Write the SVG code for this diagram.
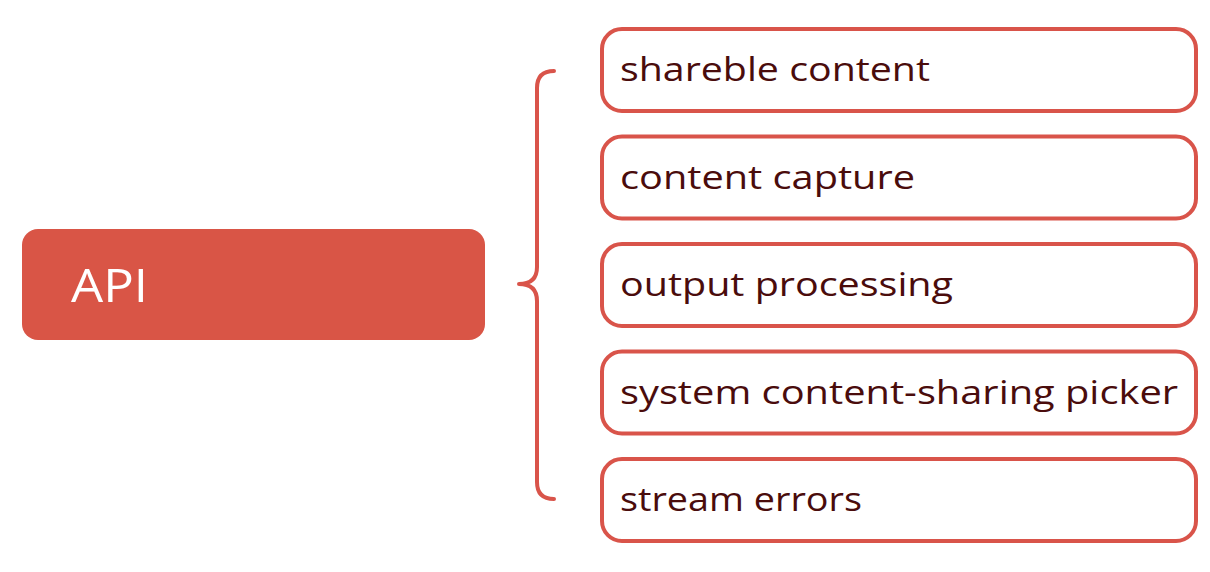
<svg xmlns="http://www.w3.org/2000/svg" width="1210" height="572" viewBox="0 0 1210 572">
<style>
.item rect{fill:#ffffff;stroke:#D9544A;stroke-width:4}
.item text{font-family:"Open Sans","Liberation Sans",sans-serif;font-size:33px;fill:#4A0C0C}
.conn path{fill:none;stroke:#D9544A;stroke-width:4;stroke-linecap:round;stroke-linejoin:round}
</style>
<rect width="1210" height="572" fill="#ffffff"/>
<g id="api">
<rect x="22" y="229" width="463" height="111" rx="16" fill="#D95546"/>
<text x="71" y="302" font-family="'Open Sans','Liberation Sans',sans-serif" font-size="46" fill="#ffffff" textLength="77" lengthAdjust="spacingAndGlyphs">API</text>
</g>
<g id="connectors" class="conn">
<path d="M554,71 Q537,71 537,88 L537,267 Q537,284 519,284 Q537,284 537,301 L537,482 Q537,499 554,499"/>
</g>
<g id="n1" class="item">
<rect x="602" y="29" width="594" height="82" rx="20"/>
<text x="620" y="81" textLength="310" lengthAdjust="spacingAndGlyphs">shareble content</text>
</g>
<g id="n2" class="item">
<rect x="602" y="136.5" width="594" height="82" rx="20"/>
<text x="620" y="188.5" textLength="295" lengthAdjust="spacingAndGlyphs">content capture</text>
</g>
<g id="n3" class="item">
<rect x="602" y="244" width="594" height="82" rx="20"/>
<text x="620" y="296" textLength="333" lengthAdjust="spacingAndGlyphs">output processing</text>
</g>
<g id="n4" class="item">
<rect x="602" y="351.5" width="594" height="82" rx="20"/>
<text x="620" y="403.5" textLength="558" lengthAdjust="spacingAndGlyphs">system content-sharing picker</text>
</g>
<g id="n5" class="item">
<rect x="602" y="459" width="594" height="82" rx="20"/>
<text x="620" y="511" textLength="242" lengthAdjust="spacingAndGlyphs">stream errors</text>
</g>
</svg>
